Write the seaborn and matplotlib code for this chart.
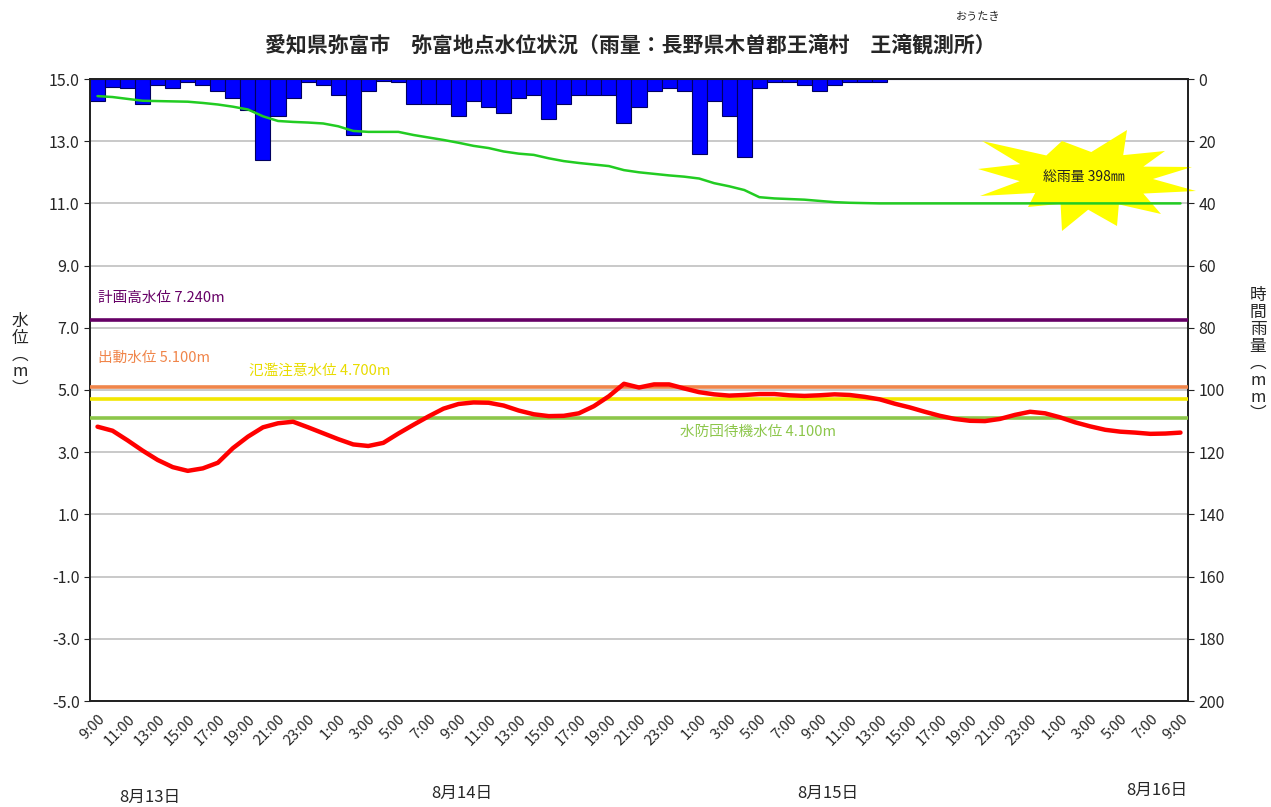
import numpy as np
import pandas as pd
import matplotlib
matplotlib.use("Agg")
import matplotlib.pyplot as plt
from matplotlib.patches import Polygon
import seaborn as sns

# hourly data, 8/13 9:00 -> 8/16 9:00
start_hour = 9
n_hours = 73

# hourly rainfall (mm), Ontake station
rain = [7, 2.5, 3, 8, 2, 3, 1, 2, 4, 6,
        10, 26, 12, 6, 1, 2, 5, 18, 4, 0.5,
        1, 8, 8, 8, 12, 7, 9, 11, 6, 5,
        13, 8, 5, 5, 5, 14, 9, 4, 3, 4,
        24, 7, 12, 25, 3, 1, 1, 2, 4, 2,
        1, 1, 1, 0, 0, 0, 0, 0, 0, 0,
        0, 0, 0, 0, 0, 0, 0, 0, 0, 0,
        0, 0, 0]

# water level at Yatomi (m)
level = [3.82, 3.69, 3.38, 3.05, 2.75, 2.52, 2.40, 2.48, 2.66, 3.13,
         3.50, 3.80, 3.93, 3.98, 3.80, 3.61, 3.42, 3.25, 3.20, 3.30,
         3.60, 3.88, 4.15, 4.40, 4.55, 4.60, 4.59, 4.50, 4.34, 4.22,
         4.16, 4.17, 4.25, 4.48, 4.80, 5.20, 5.08, 5.18, 5.18, 5.05,
         4.93, 4.86, 4.82, 4.84, 4.87, 4.87, 4.83, 4.81, 4.83, 4.86,
         4.84, 4.78, 4.70, 4.56, 4.44, 4.30, 4.17, 4.07, 4.01, 4.00,
         4.07, 4.20, 4.30, 4.25, 4.12, 3.96, 3.83, 3.72, 3.66, 3.63,
         3.59, 3.60, 3.63]

# green line (left axis)
green = [14.45, 14.42, 14.36, 14.30, 14.29, 14.28, 14.27, 14.23, 14.18, 14.11,
         14.02, 13.80, 13.65, 13.62, 13.60, 13.57, 13.48, 13.33, 13.30, 13.30,
         13.30, 13.20, 13.12, 13.04, 12.95, 12.85, 12.78, 12.67, 12.60, 12.56,
         12.45, 12.36, 12.30, 12.25, 12.20, 12.07, 12.00, 11.95, 11.90, 11.86,
         11.80, 11.65, 11.55, 11.43, 11.20, 11.16, 11.14, 11.12, 11.08, 11.04,
         11.02, 11.01, 11.00, 11.00, 11.00, 11.00, 11.00, 11.00, 11.00, 11.00,
         11.00, 11.00, 11.00, 11.00, 11.00, 11.00, 11.00, 11.00, 11.00, 11.00,
         11.00, 11.00, 11.00]

# reference levels
thr_names = ["計画高水位 7.240m", "出動水位 5.100m", "氾濫注意水位 4.700m", "水防団待機水位 4.100m"]
thr_values = [7.24, 5.10, 4.70, 4.10]
thr_colors = ["#660066", "#f0854a", "#f2e600", "#8cc64a"]

date_labels = ["8月13日", "8月14日", "8月15日", "8月16日"]
hour_labels = [f"{(start_hour + i) % 24}:00" for i in range(n_hours)]

df = pd.DataFrame({"idx": range(n_hours), "rain": rain, "level": level, "green": green})

sns.set_style("white")
plt.rcParams['font.family'] = ['Noto Sans CJK JP', 'DejaVu Sans']

fig = plt.figure(figsize=(12.71, 8.07), dpi=100)
ax = fig.add_axes([90 / 1271, 1 - 701 / 807, 1098 / 1271, 622 / 807])
ax2 = ax.twinx()

# rainfall bars on right axis (inverted)
sns.barplot(data=df, x="idx", y="rain", ax=ax2, color="#0000ff", saturation=1,
            width=1.0, edgecolor="#000060", linewidth=0.8)
ax2.set_ylim(200, 0)
ax2.set_yticks(np.arange(0, 201, 20))
ax2.set_ylabel("")
ax2.grid(axis="y", color="#c0c0c0", linewidth=1.2)
ax2.set_axisbelow(True)

# water levels on left axis, drawn above the bars
ax.set_zorder(ax2.get_zorder() + 1)
ax.patch.set_visible(False)
sns.lineplot(data=df, x="idx", y="green", ax=ax, color="#22cc22", linewidth=1.8, zorder=4)
sns.lineplot(data=df, x="idx", y="level", ax=ax, color="#ff0000", linewidth=3.2, zorder=5)

for name, val, col in zip(thr_names, thr_values, thr_colors):
    ax.axhline(val, color=col, linewidth=2.6, zorder=3)

ax.text(0.0, 7.96, thr_names[0], color=thr_colors[0], fontsize=10.5, va="center")
ax.text(0.0, 6.03, thr_names[1], color=thr_colors[1], fontsize=10.5, va="center")
ax.text(10.1, 5.61, thr_names[2], color="#e8dc00", fontsize=10.5, va="center")
ax.text(38.7, 3.65, thr_names[3], color=thr_colors[3], fontsize=10.5, va="center")

ax.set_xlim(-0.5, n_hours - 0.5)
ax.set_ylim(-5, 15)
ax.set_yticks(np.arange(-5, 15.1, 2))
ax.set_yticklabels([f"{v:.1f}" for v in np.arange(-5, 15.1, 2)], fontsize=11.5)
ax2.set_yticklabels([str(v) for v in range(0, 201, 20)], fontsize=11.5)
ax.set_xlabel("")
ax.set_ylabel("")

# x ticks: marks at hour boundaries, labels every 2 hours
ax.set_xticks(np.arange(-0.5, n_hours, 1.0))
ax.set_xticklabels([])
ax.set_xticks(np.arange(0, n_hours, 2), minor=True)
ax.set_xticklabels(hour_labels[::2], minor=True, rotation=45, ha="right",
                   rotation_mode="anchor", fontsize=10.5)
ax.tick_params(axis="x", which="major", direction="in", length=5, width=1, color="#222222")
ax.tick_params(axis="x", which="minor", length=0, pad=8)
ax.tick_params(axis="y", direction="out", length=4, color="#222222")
ax2.tick_params(axis="y", direction="out", length=4, color="#222222")
ax2.tick_params(axis="x", length=0, labelbottom=False)

for a in (ax, ax2):
    for s in a.spines.values():
        s.set_color("#222222")
        s.set_linewidth(1.3)

# total rainfall starburst
tips = [(41, 49), (79, 28), (106, 12), (110, -12), (75, -35), (31, -47),
        (-24, -52), (-58, -28), (-106, -17), (-108, 10), (-104, 38), (-24, 38)]
pts = []
for i, (dx, dy) in enumerate(tips):
    nx, ny = tips[(i + 1) % len(tips)]
    pts.append((dx, dy))
    pts.append((0.62 * (dx + nx) / 2, 0.62 * (dy + ny) / 2))
cx, cy = (1086 - 90) / 1098, (701 - 179) / 622
star = [(cx + dx / 1098, cy + dy / 622) for dx, dy in pts]
ax.add_patch(Polygon(star, closed=True, facecolor="#ffff00", edgecolor="none",
                     transform=ax.transAxes, zorder=2, clip_on=False))
ax.text(cx - 0.002, cy + 0.003, "総雨量 398㎜", transform=ax.transAxes, fontsize=10,
        ha="center", va="center", zorder=2.5, color="#222222")

# axis titles (vertical stacked)
fig.text(20 / 1271, 1 - 355 / 807, "水\n位\n︵\nm\n︶", fontsize=12, ha="center", va="center",
         linespacing=1.0)
fig.text(1258 / 1271, 1 - 355 / 807, "時\n間\n雨\n量\n︵\nm\nm\n︶", fontsize=12, ha="center",
         va="center", linespacing=1.0)

# date labels
for lbl, px, py in zip(date_labels, [150, 462, 828, 1157], [797, 793, 793, 790]):
    fig.text(px / 1271, 1 - py / 807, lbl, fontsize=12, ha="center", va="center")

fig.text(630 / 1271, 1 - 45 / 807,
         "愛知県弥富市　弥富地点水位状況（雨量：長野県木曽郡王滝村　王滝観測所）",
         fontsize=15, fontweight="bold", ha="center", va="center")
fig.text(978 / 1271, 1 - 17 / 807, "おうたき", fontsize=8, ha="center", va="center")

fig.savefig("out.png", dpi=100, facecolor="white")
